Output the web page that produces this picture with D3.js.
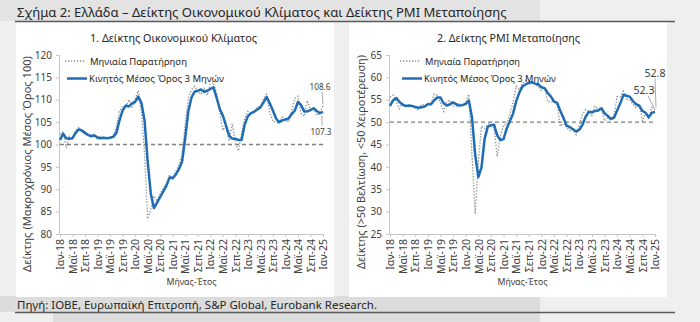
<!DOCTYPE html>
<html><head><meta charset="utf-8">
<script src="https://cdn.jsdelivr.net/npm/d3@7"></script>
<style>html,body{margin:0;padding:0;background:#eeeeee;}svg{display:block;}</style>
</head><body>
<svg id="c" width="700" height="322"></svg>
<script>
// ---------- DATA ----------
const tickLabels = ["Ιαν-18","Μαϊ-18","Σεπ-18","Ιαν-19","Μαϊ-19","Σεπ-19","Ιαν-20","Μαϊ-20","Σεπ-20","Ιαν-21","Μαϊ-21","Σεπ-21","Ιαν-22","Μαϊ-22","Σεπ-22","Ιαν-23","Μαϊ-23","Σεπ-23","Ιαν-24","Μαϊ-24","Σεπ-24","Ιαν-25"];
const legendLabels = ["Μηνιαία Παρατήρηση","Κινητός Μέσος Όρος 3 Μηνών"];

// Economic Sentiment Indicator (Jan-18 .. Jan-25), monthly
const esiMonthly = [102.2,103.0,99.2,101.8,101.2,103.2,103.8,103.2,102.3,102.0,101.5,102.4,
  101.0,101.8,101.6,101.2,101.7,102.0,104.0,107.5,108.6,108.2,110.0,108.4,
  110.2,112.0,107.3,98.0,83.4,85.5,88.5,87.3,89.0,90.3,91.2,93.2,
  92.3,94.0,95.5,97.8,104.8,110.3,112.2,113.0,112.0,111.2,112.5,111.0,
  113.5,113.8,111.5,107.5,103.2,104.2,100.8,104.6,100.5,98.6,102.5,105.8,
  107.4,106.8,107.5,108.4,108.5,110.2,111.2,107.2,105.2,105.0,104.8,106.2,
  105.5,105.0,107.5,110.3,110.8,107.0,106.3,109.8,107.8,108.0,106.5,107.0,
  108.6];
// 3-month moving average
const esiMA = [101.0,102.4,101.4,101.3,101.4,102.6,103.4,103.1,102.6,102.1,101.9,102.0,
  101.6,101.4,101.5,101.4,101.5,101.7,102.6,105.4,107.6,108.7,108.5,109.2,
  109.5,110.7,109.3,105.4,96.2,89.0,85.8,87.0,88.3,89.5,90.8,92.6,
  92.5,93.3,94.5,96.2,101.5,107.5,110.5,111.8,112.0,112.3,111.8,112.0,
  112.4,112.8,110.5,108.0,106.5,104.3,102.0,101.3,101.3,101.0,101.0,104.5,
  106.3,107.0,107.3,107.8,108.3,109.4,110.6,109.2,107.6,105.8,105.0,105.4,
  105.6,105.8,106.8,107.6,109.5,108.8,107.4,107.4,107.7,108.1,107.5,107.0,
  107.3];

// Manufacturing PMI (Jan-18 .. Jan-25), monthly
const pmiMonthly = [55.6,56.0,54.5,53.0,54.2,53.5,53.5,53.7,53.1,52.7,54.0,53.7,
  54.2,54.2,56.2,56.0,54.2,52.4,54.6,54.9,53.6,53.5,54.1,53.9,
  54.4,56.2,42.5,29.5,41.1,49.1,48.6,49.4,50.0,48.7,42.3,46.9,
  49.4,49.4,51.8,54.4,58.0,57.3,58.6,59.3,58.4,58.9,58.6,57.8,
  57.1,57.8,54.6,54.6,54.6,53.8,49.1,49.7,48.8,48.1,48.4,47.2,
  49.2,51.7,52.8,52.4,51.5,53.5,52.9,52.9,50.3,50.9,50.9,51.3,
  55.7,55.7,56.9,55.2,54.9,54.0,53.2,53.9,50.3,52.1,50.9,53.3,
  52.8];
const pmiMA = [53.6,54.9,55.4,54.5,53.9,53.6,53.7,53.6,53.4,53.2,53.3,53.5,
  54.0,54.0,54.9,55.5,55.5,54.2,53.7,54.0,54.4,54.0,53.7,53.8,
  54.1,54.8,51.0,42.7,37.7,39.9,46.3,49.0,49.3,49.4,47.0,46.0,
  46.2,48.6,50.2,51.9,54.7,56.6,58.0,58.4,58.8,58.9,58.6,58.4,
  57.8,57.6,56.5,55.7,54.6,54.3,52.5,50.9,49.2,48.9,48.4,47.9,
  48.3,49.4,51.2,52.3,52.2,52.5,52.6,53.1,52.0,51.4,50.7,51.0,
  52.6,54.2,56.1,55.9,55.7,54.7,54.0,53.7,52.5,52.1,51.1,52.1,
  52.3];

const esiTicks = [80,85,90,95,100,105,110,115,120];
const pmiTicks = [25,30,35,40,45,50,55,60,65];

// ---------- DRAW ----------
const FONT = "'Noto Sans', 'DejaVu Sans', sans-serif";
const svg = d3.select("#c").style("font-family", FONT);

function fitWidth(sel, w) {
  const n = sel.node().getComputedTextLength();
  const fs = parseFloat(sel.attr("font-size"));
  sel.attr("font-size", (fs * w / n).toFixed(2));
  return sel;
}

// background bands
svg.append("rect").attr("x",0).attr("y",0).attr("width",700).attr("height",322).attr("fill","#efefef");
svg.append("rect").attr("x",0).attr("y",0).attr("width",540).attr("height",21).attr("fill","#e3e3e3");
svg.append("rect").attr("x",0).attr("y",296).attr("width",540).attr("height",16).attr("fill","#dcdcdc");
svg.append("rect").attr("x",53).attr("y",313).attr("width",487).attr("height",9).attr("fill","#dddddd");

// panels
svg.append("rect").attr("x",16).attr("y",22).attr("width",318).attr("height",275).attr("fill","#ffffff");
svg.append("rect").attr("x",349).attr("y",22).attr("width",318).attr("height",275).attr("fill","#ffffff");

// main title + rule
fitWidth(svg.append("text").attr("x",17).attr("y",17).attr("font-size",14).attr("fill","#262626")
  .text("Σχήμα 2: Ελλάδα – Δείκτης Οικονομικού Κλίματος και Δείκτης PMI Μεταποίησης"), 490);
svg.append("line").attr("x1",15).attr("x2",675).attr("y1",21.5).attr("y2",21.5).attr("stroke","#5a5a5a").attr("stroke-width",1.3);

// source + rule
fitWidth(svg.append("text").attr("x",17).attr("y",309).attr("font-size",10.5).attr("fill","#262626")
  .text("Πηγή: ΙΟΒΕ, Ευρωπαϊκή Επιτροπή, S&P Global, Eurobank Research."), 360);
svg.append("line").attr("x1",15).attr("x2",675).attr("y1",312.5).attr("y2",312.5).attr("stroke","#5a5a5a").attr("stroke-width",1.3);

function panel(cfg) {
  const g = svg.append("g");
  const x = d3.scaleLinear().domain([0, cfg.monthly.length - 1]).range([cfg.x0, cfg.x1]);
  const y = d3.scaleLinear().domain([cfg.ticks[0], cfg.ticks[cfg.ticks.length-1]]).range([234, 55]);

  // title
  fitWidth(g.append("text").attr("x",(cfg.x0+cfg.x1)/2 - 2 + cfg.titleShift).attr("y",42).attr("text-anchor","middle")
    .attr("font-size",11).attr("fill","#262626").text(cfg.title), cfg.titleW);

  // y axis
  const ya = g.append("g").attr("transform",`translate(${cfg.x0 - 1},0)`)
    .call(d3.axisLeft(y).tickValues(cfg.ticks).tickSize(3).tickPadding(4).tickFormat(d3.format("d")));
  ya.select(".domain").attr("stroke","#c6c6c6");
  ya.selectAll(".tick line").attr("stroke","#c6c6c6");
  ya.selectAll(".tick text").attr("font-family",FONT).attr("font-size",10).attr("fill","#404040");

  // x axis
  const tv = tickLabels.map((d,i) => i*4);
  const xa = g.append("g").attr("transform",`translate(0,234)`)
    .call(d3.axisBottom(x).tickValues(tv).tickSize(3).tickFormat((d,i) => tickLabels[i]));
  xa.select(".domain").attr("stroke","#c6c6c6");
  xa.selectAll(".tick line").attr("stroke","#c6c6c6");
  xa.selectAll(".tick text").attr("font-family",FONT).attr("font-size",10.5).attr("fill","#404040")
    .attr("transform","rotate(-90)").attr("text-anchor","end").attr("x",-5).attr("y",0).attr("dy","0.35em");

  // axis titles
  fitWidth(g.append("text").attr("transform",`translate(${cfg.ytX},${cfg.ytY}) rotate(-90)`).attr("text-anchor","middle")
    .attr("font-size",10.5).attr("fill","#404040").text(cfg.ytitle), cfg.ytW);
  fitWidth(g.append("text").attr("x",(cfg.x0+cfg.x1)/2).attr("y",285).attr("text-anchor","middle")
    .attr("font-size",10).attr("fill","#404040").text("Μήνας-Έτος"), 50);

  // reference line
  g.append("line").attr("x1",x(0)).attr("x2",x(cfg.monthly.length-1)).attr("y1",y(cfg.ref)).attr("y2",y(cfg.ref))
    .attr("stroke","#808080").attr("stroke-width",1.3).attr("stroke-dasharray","4,3");

  const line = d3.line().x((d,i) => x(i)).y(d => y(d));
  g.append("path").datum(cfg.monthly).attr("d",line).attr("fill","none")
    .attr("stroke","#8c8c8c").attr("stroke-width",1.3).attr("stroke-dasharray","1.3,1.7");
  g.append("path").datum(cfg.ma).attr("d",line).attr("fill","none")
    .attr("stroke","#1f6db4").attr("stroke-width",2.5).attr("stroke-linejoin","round");

  // legend
  const lx = cfg.legX;
  g.append("line").attr("x1",lx).attr("x2",lx+20).attr("y1",61).attr("y2",61)
    .attr("stroke","#8c8c8c").attr("stroke-width",1.3).attr("stroke-dasharray","1.3,1.7");
  fitWidth(g.append("text").attr("x",lx+25).attr("y",64.5).attr("font-size",10).attr("fill","#262626").text(legendLabels[0]), cfg.legW[0]);
  g.append("line").attr("x1",lx+2).attr("x2",lx+22).attr("y1",78.5).attr("y2",78.5)
    .attr("stroke","#1f6db4").attr("stroke-width",2.5);
  fitWidth(g.append("text").attr("x",lx+24).attr("y",82).attr("font-size",10).attr("fill","#262626").text(legendLabels[1]), cfg.legW[1]);

  // annotations for last values
  const n = cfg.monthly.length - 1;
  const px = x(n);
  const lastM = cfg.monthly[n], lastA = cfg.ma[n];
  cfg.ann.forEach(a => {
    const v = a.which === "m" ? lastM : lastA;
    const py = y(v);
    g.append("line").attr("x1",px + a.lx).attr("y1",py + a.ly).attr("x2",px + a.ex).attr("y2",py + a.ey)
      .attr("stroke","#a0a0a0").attr("stroke-width",0.9);
    fitWidth(g.append("text").attr("x",px + a.tx).attr("y",py + a.ty).attr("text-anchor","middle")
      .attr("font-size",10).attr("fill","#404040").text(d3.format(".1f")(v)), 21);
  });
}

panel({x0:60, x1:323, ticks:esiTicks, monthly:esiMonthly, ma:esiMA, ref:100,
  title:"1. Δείκτης Οικονομικού Κλίματος", titleW:167, titleShift:-16,
  ytitle:"Δείκτης (Μακροχρόνιος Μέσος Όρος 100)", ytX:31, ytY:164, ytW:216,
  legX:65, legW:[97,135],
  ann:[{which:"m", tx:-3, ty:-16, lx:-1, ly:-14, ex:0, ey:-2},
       {which:"a", tx:-2, ty:23, lx:-1, ly:14, ex:-1, ey:4}]});

panel({x0:390, x1:655, ticks:pmiTicks, monthly:pmiMonthly, ma:pmiMA, ref:50,
  title:"2. Δείκτης PMI Μεταποίησης", titleW:143, titleShift:-12,
  ytitle:"Δείκτης (>50 Βελτίωση, <50 Χειροτέρευση)", ytX:365, ytY:162, ytW:214,
  legX:400, legW:[95,132],
  ann:[{which:"m", tx:0, ty:-33, lx:0, ly:-31, ex:1, ey:-2},
       {which:"a", tx:-11, ty:-18, lx:-7, ly:-16, ex:0, ey:-2}]});
</script>
</body></html>
